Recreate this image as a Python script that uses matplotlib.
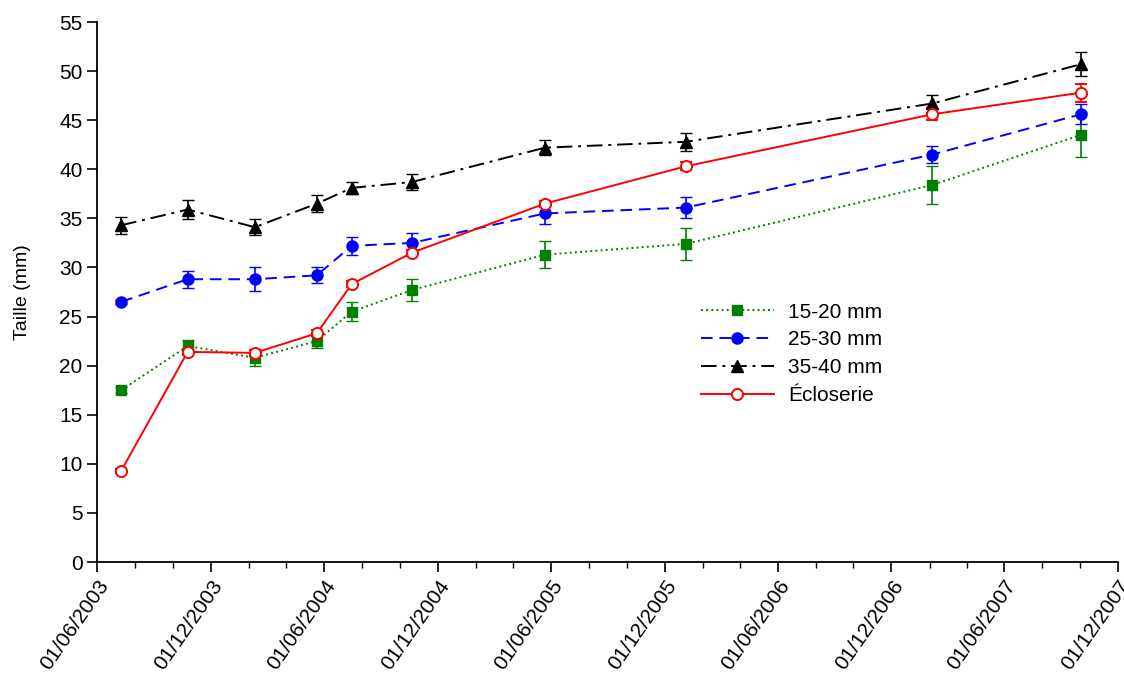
import matplotlib
matplotlib.use("Agg")
import matplotlib.pyplot as plt
import matplotlib.dates as mdates
import numpy as np
import pandas as pd

plt.rcParams['font.family'] = ['Liberation Sans', 'DejaVu Sans']

# dates des prélèvements
dates = pd.to_datetime([
    "2003-07-10", "2003-10-25", "2004-02-10", "2004-05-20", "2004-07-15",
    "2004-10-20", "2005-05-22", "2006-01-04", "2007-02-05", "2007-10-02",
])

# tailles moyennes (mm) et erreurs
taille_15_20 = [17.5, 22.0, 20.8, 22.5, 25.5, 27.7, 31.3, 32.4, 38.4, 43.5]
err_15_20 = [0.3, 0.6, 0.85, 0.75, 0.95, 1.1, 1.35, 1.6, 1.9, 2.3]

taille_25_30 = [26.5, 28.8, 28.8, 29.2, 32.2, 32.5, 35.5, 36.1, 41.5, 45.6]
err_25_30 = [0.2, 0.85, 1.2, 0.8, 0.9, 1.05, 1.1, 1.1, 0.9, 1.0]

taille_35_40 = [34.3, 35.9, 34.1, 36.5, 38.1, 38.7, 42.2, 42.8, 46.7, 50.7]
err_35_40 = [0.85, 1.0, 0.8, 0.9, 0.6, 0.85, 0.75, 0.9, 0.9, 1.2]

taille_eclo = [9.3, 21.4, 21.3, 23.3, 28.3, 31.5, 36.5, 40.3, 45.6, 47.8]
err_eclo = [0.2, 0.3, 0.3, 0.3, 0.3, 0.3, 0.3, 0.4, 0.6, 0.9]

fig = plt.figure(figsize=(11.24, 6.75), dpi=100)
ax = fig.add_axes([0.0863, 0.1674, 0.9084, 0.80])

series = []
series.append(ax.errorbar(dates, taille_15_20, yerr=err_15_20, color="#008000", ls=":", lw=1.4,
                          marker="s", ms=7.5, capsize=4, elinewidth=1.2, label="15-20 mm"))
series.append(ax.errorbar(dates, taille_25_30, yerr=err_25_30, color="#0000ff", ls=(0, (6, 3.5)), lw=1.4,
                          marker="o", ms=8, capsize=4, elinewidth=1.2, label="25-30 mm"))
series.append(ax.errorbar(dates, taille_35_40, yerr=err_35_40, color="black", ls=(0, (8, 3, 1.5, 3)), lw=1.4,
                          marker="^", ms=8, capsize=4, elinewidth=1.2, label="35-40 mm"))
series.append(ax.errorbar(dates, taille_eclo, yerr=err_eclo, color="#ff0000", ls="-", lw=1.4,
                          marker="o", ms=8, mfc="white", mew=1.4, capsize=4, elinewidth=1.2,
                          label="Écloserie"))

ax.set_xlim(pd.Timestamp("2003-06-01"), pd.Timestamp("2007-12-01"))
ax.set_ylim(0, 55)
ax.set_yticks(np.arange(0, 56, 5))

ax.xaxis.set_major_locator(mdates.MonthLocator(bymonth=[6, 12], bymonthday=1))
ax.xaxis.set_minor_locator(mdates.MonthLocator(bymonth=[2, 4, 8, 10], bymonthday=1))
ax.xaxis.set_major_formatter(mdates.DateFormatter("%d/%m/%Y"))
plt.setp(ax.get_xticklabels(), rotation=55, ha="right", rotation_mode="anchor")

ax.tick_params(axis="both", which="major", labelsize=15, direction="out", length=7, width=1.2)
ax.tick_params(axis="x", which="minor", direction="out", length=4, width=1.0)
ax.spines["top"].set_visible(False)
ax.spines["right"].set_visible(False)
ax.spines["left"].set_linewidth(1.3)
ax.spines["bottom"].set_linewidth(1.3)

ax.set_ylabel("Taille (mm)", fontsize=14, labelpad=20)

ax.legend([s[0] for s in series], [s.get_label() for s in series],
          loc="upper left", bbox_to_anchor=(0.573, 0.515), frameon=False, fontsize=15,
          handlelength=3.5, labelspacing=0.42, handletextpad=0.7)

fig.savefig("out.png", dpi=100)
